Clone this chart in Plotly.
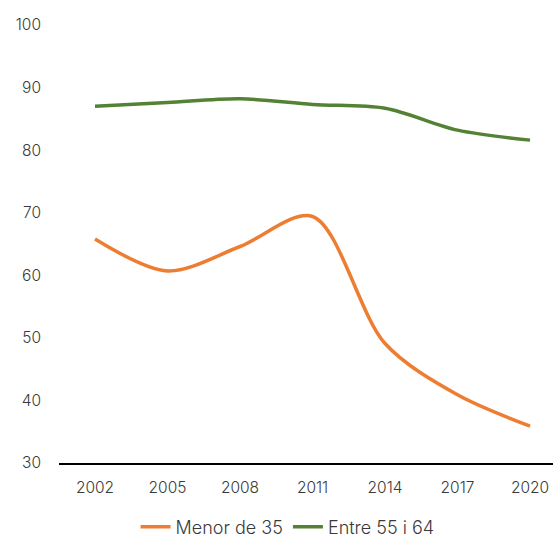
import plotly.graph_objects as go

years = [2002, 2005, 2008, 2011, 2014, 2017, 2020]
menor_35 = [65.8, 60.7, 64.6, 69.4, 49.1, 40.9, 35.9]
entre_55_64 = [87.0, 87.6, 88.2, 87.3, 86.7, 83.2, 81.6]
y_ticks = [30, 40, 50, 60, 70, 80, 90, 100]

FONT = "Inter"
TEXT = "#3a3a3a"

fig = go.Figure()
fig.add_trace(go.Scatter(
    x=years, y=menor_35, name="Menor de 35", mode="lines",
    line=dict(color="#ED7D31", width=3.5, shape="spline", smoothing=0.9),
))
fig.add_trace(go.Scatter(
    x=years, y=entre_55_64, name="Entre 55 i 64", mode="lines",
    line=dict(color="#548235", width=3.5, shape="spline", smoothing=0.9),
))

fig.update_layout(
    width=553, height=541,
    margin=dict(l=59, r=0, t=25, b=78),
    paper_bgcolor="white", plot_bgcolor="white",
    font=dict(family=FONT, size=15.5, color=TEXT, weight=300),
    showlegend=True,
    legend=dict(
        orientation="h", xref="container", yref="container",
        x=0.52, xanchor="center", y=0.026, yanchor="middle",
        font=dict(family=FONT, size=18, color=TEXT, weight=300),
        itemwidth=30, tracegroupgap=0,
    ),
    xaxis=dict(
        range=[2000.51, 2020.95],
        tickmode="array", tickvals=years, ticktext=[str(y) for y in years],
        showgrid=False, zeroline=False,
        showline=True, linecolor="black", linewidth=2,
        ticks="", ticklabelstandoff=9,
    ),
    yaxis=dict(
        range=[30, 100],
        tickmode="array", tickvals=y_ticks,
        showgrid=False, zeroline=False, showline=False,
        ticks="", ticklabelstandoff=17,
    ),
)

fig.write_html("out.html")
